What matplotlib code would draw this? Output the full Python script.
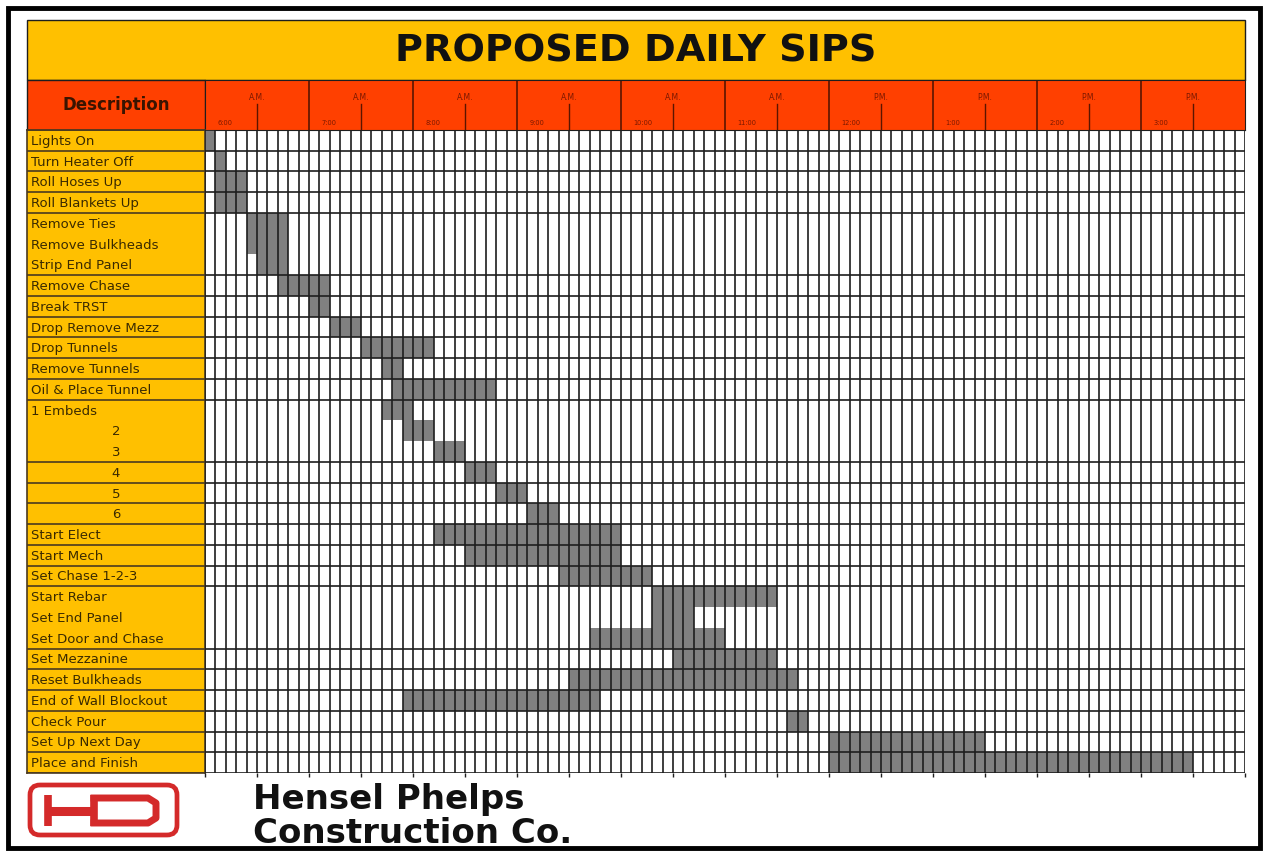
import matplotlib
matplotlib.use('Agg')
import matplotlib.pyplot as plt
from matplotlib.patches import Rectangle, FancyBboxPatch

# ── Data ─────────────────────────────────────────────────────────────────────
tasks = [
    'Lights On', 'Turn Heater Off', 'Roll Hoses Up', 'Roll Blankets Up',
    'Remove Ties', 'Remove Bulkheads', 'Strip End Panel', 'Remove Chase',
    'Break TRST', 'Drop Remove Mezz', 'Drop Tunnels', 'Remove Tunnels',
    'Oil & Place Tunnel', '1 Embeds', '2', '3', '4', '5', '6',
    'Start Elect', 'Start Mech', 'Set Chase 1-2-3', 'Start Rebar',
    'Set End Panel', 'Set Door and Chase', 'Set Mezzanine', 'Reset Bulkheads',
    'End of Wall Blockout', 'Check Pour', 'Set Up Next Day', 'Place and Finish',
]
# start slot / number of slots (6-minute slots, slot 0 = 6:00 A.M.)
starts = [0, 1, 1, 1, 4, 4, 5, 7, 10, 12, 15, 17, 18, 17, 19, 22, 25, 28, 31,
          22, 25, 34, 43, 43, 37, 45, 35, 19, 56, 60, 60]
slots = [1, 1, 3, 3, 4, 4, 3, 5, 2, 3, 7, 2, 10, 3, 3, 3, 3, 3, 3,
         18, 15, 9, 12, 4, 13, 10, 22, 19, 2, 15, 35]
# rows sharing one merged label cell (first, last)
merged = [(4, 6), (13, 15), (22, 24)]

hours = ['6:00', '7:00', '8:00', '9:00', '10:00', '11:00',
         '12:00', '1:00', '2:00', '3:00']
ampm = ['A.M.'] * 6 + ['P.M.'] * 4
SLOTS_PER_HOUR = 10

# ── Layout (pixels) ──────────────────────────────────────────────────────────
W, H = 1268, 856
GOLD = '#FFC000'
RED = '#FF4000'
GRAY = '#808080'
LINE = '#1e1e1e'
TXT = '#3a2a00'

n_rows = len(tasks)
n_slots = len(hours) * SLOTS_PER_HOUR
hidden = set()
for a, b in merged:
    hidden.update(range(a + 1, b + 1))
row_lines = [r for r in range(n_rows + 1) if r not in hidden]

fig = plt.figure(figsize=(W / 100, H / 100), dpi=100)
fig.patch.set_facecolor('white')


def px_axes(x0, y0, x1, y1):
    return fig.add_axes([x0 / W, 1 - y1 / H, (x1 - x0) / W, (y1 - y0) / H])


bg = px_axes(0, 0, W, H)
bg.set_xlim(0, W)
bg.set_ylim(H, 0)
bg.axis('off')

# outer frame
bg.add_patch(Rectangle((8, 8), W - 16, H - 16, fill=False,
                       edgecolor='black', lw=3.5))

# title bar
bg.add_patch(Rectangle((27, 20), 1218, 60, facecolor=GOLD,
                       edgecolor=LINE, lw=1.0))
bg.text(636, 51, 'PROPOSED DAILY SIPS', ha='center', va='center',
        fontsize=27.5, fontweight='bold', color='#111111',
        family='DejaVu Sans')

# description header
bg.add_patch(Rectangle((27, 80), 178, 50, facecolor=RED,
                       edgecolor=LINE, lw=1.0))
bg.text(116, 105, 'Description', ha='center', va='center',
        fontsize=12, fontweight='bold', color='#3a1400')

# ── Time header ──────────────────────────────────────────────────────────────
hd = px_axes(205, 80, 1245, 130)
hd.set_xlim(0, n_slots)
hd.set_ylim(1, 0)
hd.set_facecolor(RED)
hd.set_xticks([])
hd.set_yticks([])
for s in hd.spines.values():
    s.set_color(LINE)
for i, (h, ap) in enumerate(zip(hours, ampm)):
    x0 = i * SLOTS_PER_HOUR
    mid = x0 + SLOTS_PER_HOUR / 2
    hd.axvline(x0, color='#5a1500', lw=1.2)
    hd.plot([mid, mid], [0.48, 1], color='#5a1500', lw=1.0)
    hd.text(mid, 0.36, ap, ha='center', va='center', fontsize=5.5,
            color='#7a1800')
    hd.text(x0 + 1.2, 0.86, h, ha='left', va='center', fontsize=4.8,
            color='#7a1800')

# ── Task labels ──────────────────────────────────────────────────────────────
lb = px_axes(27, 130, 205, 773)
lb.set_xlim(0, 1)
lb.set_ylim(n_rows, 0)
lb.set_facecolor(GOLD)
lb.set_xticks([])
lb.set_yticks([])
for s in lb.spines.values():
    s.set_color('#4a3a20')
    s.set_linewidth(1.2)
lb.hlines(row_lines, 0, 1, color='#4a3a20', lw=1.2)
for r, t in enumerate(tasks):
    if t.isdigit():
        lb.text(0.5, r + 0.55, t, ha='center', va='center', fontsize=9.5,
                color=TXT)
    else:
        lb.text(0.02, r + 0.55, t, ha='left', va='center', fontsize=9.5,
                color=TXT)

# ── Gantt grid ───────────────────────────────────────────────────────────────
ax = px_axes(205, 130, 1245, 773)
ax.set_xlim(0, n_slots)
ax.set_ylim(n_rows, 0)
ax.axis('off')
ax.barh(range(n_rows), slots, left=starts, height=1.0, align='edge',
        color=GRAY, edgecolor='none', zorder=1)
ax.vlines(range(n_slots + 1), 0, n_rows, color=LINE, lw=1.2, zorder=2)
ax.hlines(row_lines, 0, n_slots, color=LINE, lw=1.2, zorder=2)
# half-hour ticks below the grid
ax.vlines(range(0, n_slots + 1, 5), n_rows, n_rows + 0.2, color=LINE,
          lw=1.0, clip_on=False)

# ── Company logo ─────────────────────────────────────────────────────────────
LOGO = '#d42a2a'
bg.add_patch(FancyBboxPatch((30, 785), 147, 50,
                            boxstyle='round,pad=0,rounding_size=10',
                            facecolor='white', edgecolor=LOGO, lw=3.4))
bg.plot([48, 48], [795, 826], color=LOGO, lw=5.5, solid_capstyle='butt')
bg.plot([48, 94], [811, 811], color=LOGO, lw=6.5, solid_capstyle='butt')
bg.plot([94, 94], [795, 826], color=LOGO, lw=5.5, solid_capstyle='butt')
bg.plot([94, 148, 156, 156, 148, 94],
        [798, 798, 803, 818, 823, 823], color=LOGO, lw=5,
        solid_joinstyle='round')
bg.text(253, 809, 'Hensel Phelps', ha='left', va='baseline',
        fontsize=24.5, fontweight='bold', color='#111111',
        family='DejaVu Sans')
bg.text(253, 843, 'Construction Co.', ha='left', va='baseline',
        fontsize=24.5, fontweight='bold', color='#111111',
        family='DejaVu Sans')

fig.savefig('out.png', dpi=100)
